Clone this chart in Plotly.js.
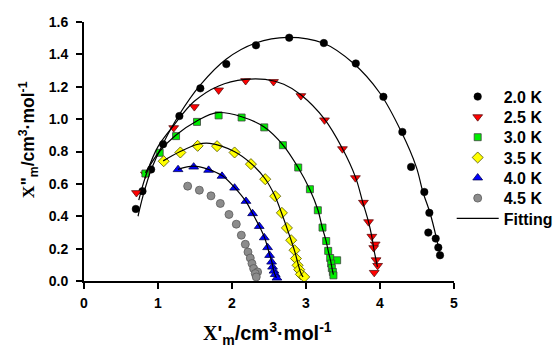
<!DOCTYPE html>
<html>
<head>
<meta charset="utf-8">
<script src="https://cdn.plot.ly/plotly-3.0.1.min.js"></script>
<style>html,body{margin:0;padding:0;background:#fff;}#chart{width:555px;height:347px;}</style>
</head>
<body>
<div id="chart"></div>
<script>
// ---- data ----
const seriesNames = ["2.0 K", "2.5 K", "3.0 K", "3.5 K", "4.0 K", "4.5 K"];
const fitName = "Fitting";

const x20 = [0.700,0.790,0.907,1.069,1.289,1.572,1.923,2.324,2.773,3.241,3.673,4.046,4.302,4.420,4.599,4.667,4.653,4.753,4.788,4.811];
const y20 = [0.445,0.555,0.689,0.845,1.019,1.190,1.340,1.456,1.503,1.470,1.344,1.138,0.921,0.705,0.550,0.421,0.299,0.262,0.207,0.159];

const x25 = [0.709,0.830,1.212,1.491,1.819,2.184,2.561,2.931,3.250,3.493,3.668,3.776,3.845,3.890,3.935,3.915,3.947,3.968,3.922];
const y25 = [0.545,0.660,0.946,1.076,1.179,1.237,1.231,1.144,0.994,0.816,0.637,0.485,0.365,0.275,0.227,0.205,0.130,0.095,0.052];

const x30 = [0.830,1.023,1.244,1.527,1.819,2.130,2.436,2.688,2.895,3.053,3.160,3.223,3.273,3.300,3.327,3.421,3.340,3.349,3.363,3.371];
const y30 = [0.664,0.792,0.895,0.983,1.023,1.010,0.949,0.839,0.701,0.567,0.437,0.330,0.247,0.186,0.142,0.128,0.108,0.080,0.056,0.035];

const x35 = [1.077,1.302,1.536,1.798,2.035,2.256,2.449,2.584,2.674,2.742,2.800,2.845,2.864,2.886,2.908,2.931,2.976];
const y35 = [0.740,0.794,0.835,0.833,0.794,0.722,0.629,0.524,0.421,0.328,0.252,0.190,0.139,0.097,0.070,0.041,0.025];

const x40 = [1.271,1.482,1.684,1.865,2.035,2.189,2.278,2.368,2.436,2.481,2.508,2.535,2.548,2.567,2.584,2.607];
const y40 = [0.689,0.705,0.685,0.648,0.575,0.493,0.417,0.338,0.268,0.207,0.159,0.118,0.087,0.062,0.041,0.019];

const x45 = [1.401,1.559,1.716,1.842,1.959,2.058,2.126,2.180,2.216,2.247,2.270,2.292,2.346,2.314,2.328];
const y45 = [0.586,0.561,0.526,0.479,0.411,0.351,0.283,0.227,0.179,0.142,0.108,0.077,0.056,0.046,0.025];

// fitted curves
const fx20 = [0.73,0.80,0.91,1.07,1.29,1.57,1.92,2.32,2.75,3.23,3.64,4.00,4.29,4.49,4.58,4.676,4.76,4.81];
const fy20 = [0.40,0.53,0.69,0.85,1.03,1.21,1.37,1.47,1.505,1.47,1.345,1.16,0.92,0.705,0.55,0.42,0.27,0.16];

const fx25 = [0.74,0.85,1.00,1.21,1.49,1.82,2.18,2.45,2.70,2.93,3.25,3.49,3.67,3.768,3.845,3.89,3.92,3.947,3.965];
const fy25 = [0.50,0.67,0.83,0.96,1.11,1.205,1.245,1.245,1.215,1.15,1.00,0.82,0.64,0.485,0.365,0.272,0.19,0.128,0.087];

const fx30 = [0.83,1.02,1.24,1.53,1.80,2.13,2.44,2.69,2.895,3.05,3.16,3.22,3.27,3.30,3.33,3.36,3.37];
const fy30 = [0.668,0.80,0.90,0.99,1.04,1.015,0.95,0.84,0.70,0.567,0.44,0.33,0.25,0.186,0.13,0.06,0.04];

const fx35 = [1.07,1.30,1.54,1.70,2.03,2.26,2.45,2.58,2.67,2.74,2.80,2.85,2.89,2.93,2.96];
const fy35 = [0.742,0.80,0.845,0.85,0.80,0.725,0.63,0.525,0.42,0.33,0.25,0.18,0.11,0.05,0.025];

const fx40 = [1.27,1.48,1.68,1.87,2.03,2.19,2.28,2.37,2.44,2.48,2.51,2.54,2.56,2.58,2.60];
const fy40 = [0.69,0.71,0.69,0.65,0.58,0.49,0.415,0.338,0.268,0.21,0.16,0.115,0.07,0.04,0.02];

const xTicks = [0,1,2,3,4,5];
const yTicks = [0,0.2,0.4,0.6,0.8,1.0,1.2,1.4,1.6];
const yTickText = ["0.0","0.2","0.4","0.6","0.8","1.0","1.2","1.4","1.6"];

// ---- traces ----
const FONT = "Arial, 'Liberation Sans', sans-serif";
const markerStyles = [
  {symbol:"circle", color:"#000000", size:7.5, line:{color:"#000000", width:0.5}},
  {symbol:"triangle-down", color:"#ff0000", size:8.5, line:{color:"#5a1010", width:0.8}},
  {symbol:"square", color:"#00ee00", size:7, line:{color:"#404040", width:0.8}},
  {symbol:"diamond", color:"#ffff00", size:8.5, line:{color:"#505000", width:0.8}},
  {symbol:"triangle-up", color:"#0000ff", size:8.5, line:{color:"#000050", width:0.8}},
  {symbol:"circle", color:"#8c8c8c", size:8, line:{color:"#5a5a5a", width:0.8}}
];
const xs = [x20,x25,x30,x35,x40,x45];
const ys = [y20,y25,y30,y35,y40,y45];
const fxs = [fx20,fx25,fx30,fx35,fx40];
const fys = [fy20,fy25,fy30,fy35,fy40];
const legendIds = ["legend","legend2","legend3","legend4","legend5","legend6","legend7"];

const traces = [];
for (let i = 0; i < xs.length; i++) {
  traces.push({
    type:"scatter", mode:"markers", name:seriesNames[i], x:xs[i], y:ys[i],
    marker:markerStyles[i], cliponaxis:false, legend:legendIds[i]
  });
}
for (let i = 0; i < fxs.length; i++) {
  traces.push({
    type:"scatter", mode:"lines", name:fitName, x:fxs[i], y:fys[i],
    line:{color:"#000000", width:1.2, shape:"spline", smoothing:1},
    showlegend:i===0, cliponaxis:false, legend:legendIds[6]
  });
}

const xTitle = "<span style=\"font-family:'Liberation Serif',serif\">X</span>'<sub>m</sub>/cm<sup>3</sup>·mol<sup>-1</sup>";
const yTitle = "<span style=\"font-family:'Liberation Serif',serif\">X</span>\"<sub>m</sub>/cm<sup>3</sup>·mol<sup>-1</sup>";

const layout = {
  width:555, height:347,
  margin:{l:84, r:101, t:22, b:66, pad:0, autoexpand:false},
  paper_bgcolor:"#ffffff", plot_bgcolor:"#ffffff",
  font:{family:FONT, color:"#000000"},
  showlegend:true,
  xaxis:{
    range:[0,5], tickvals:xTicks, ticktext:xTicks.map(String),
    showgrid:false, zeroline:false, showline:true, linecolor:"#000", linewidth:2,
    ticks:"outside", ticklen:6, tickwidth:2, tickcolor:"#000",
    tickfont:{family:FONT, size:14, weight:"bold"}, ticklabelstandoff:2
  },
  yaxis:{
    range:[0,1.6], tickvals:yTicks, ticktext:yTickText,
    showgrid:false, zeroline:false, showline:true, linecolor:"#000", linewidth:2,
    ticks:"outside", ticklen:6, tickwidth:2, tickcolor:"#000",
    tickfont:{family:FONT, size:14, weight:"bold"}, ticklabelstandoff:5
  },
  annotations:[
    {xref:"paper", yref:"paper", x:0.495, y:-0.203, xanchor:"center", yanchor:"middle",
     showarrow:false, text:xTitle, font:{family:FONT, size:20, weight:"bold", color:"#000"}},
    {xref:"paper", yref:"paper", x:-0.151, y:0.544, xanchor:"center", yanchor:"middle",
     textangle:-90, showarrow:false, text:yTitle, font:{family:FONT, size:17.5, weight:"bold", color:"#000"}}
  ]
};

// one single-item legend per row, stacked at the reference spacing
const rowTop = 96.7, rowStep = 20.3;
for (let i = 0; i < legendIds.length; i++) {
  layout[legendIds[i]] = {
    xref:"container", yref:"container", x:451.7/555, y:1 - (rowTop + rowStep*i)/347,
    xanchor:"left", yanchor:"middle",
    bgcolor:"rgba(0,0,0,0)", borderwidth:0,
    font:{family:FONT, size:16, weight:"bold", color:"#000"},
    itemwidth:42
  };
}

Plotly.newPlot("chart", traces, layout, {staticPlot:true, displayModeBar:false});
</script>
</body>
</html>
